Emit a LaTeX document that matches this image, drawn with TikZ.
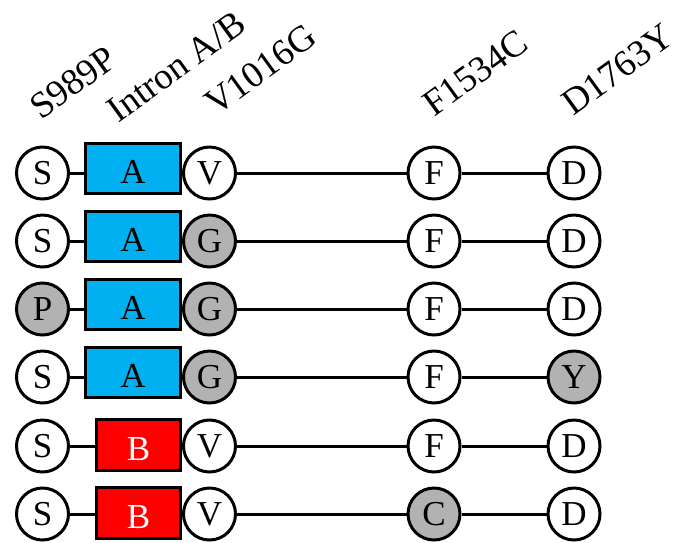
\documentclass[tikz,border=0pt]{standalone}
\usepackage{fontspec}
\setmainfont{Liberation Serif}
\definecolor{mutgray}{RGB}{178,178,178}
\definecolor{introna}{RGB}{0,176,240}
\definecolor{intronb}{RGB}{255,0,0}
\begin{document}
\begin{tikzpicture}[x=1pt,y=-1pt,
  site/.style={circle,draw,line width=3pt,minimum size=52pt,inner sep=0pt,fill=white,font=\fontsize{35}{35}\selectfont},
  mut/.style={site,fill=mutgray},
  boxa/.style={rectangle,draw,line width=3pt,fill=introna,minimum width=95pt,minimum height=50pt,inner sep=0pt,text height=29pt,text depth=0pt,font=\fontsize{35}{35}\selectfont},
  boxb/.style={rectangle,draw,line width=3pt,fill=intronb,text=white,minimum width=84pt,minimum height=51pt,inner sep=0pt,text height=30pt,text depth=0pt,font=\fontsize{35}{35}\selectfont},
  conn/.style={line width=3pt},
  lab/.style={rotate=36,anchor=base west,inner sep=0pt,font=\fontsize{37}{37}\selectfont}
]
\useasboundingbox[fill=white] (0,0) rectangle (676,542);
% labels
\node[lab] (l1) at (41,121) {S989P};
\node[lab] (l2) at (118,124) {Intron A/B};
\node[lab] (l3) at (216,117) {V1016G};
\node[lab] (l4) at (434,118) {F1534C};
\node[lab] (l5) at (573,117) {D1763Y};
% row 1
\node[site] (s1) at (42.5,173) {S};
\node[boxa] (b1) at (133,168.5) {A};
\node[site] (v1) at (209.5,173) {V};
\node[site] (f1) at (434,173) {F};
\node[site] (d1) at (574,173) {D};
% row 2
\node[site] (s2) at (42.5,241) {S};
\node[boxa] (b2) at (133,236.5) {A};
\node[mut] (v2) at (209.5,241) {G};
\node[site] (f2) at (434,241) {F};
\node[site] (d2) at (574,241) {D};
% row 3
\node[mut] (s3) at (42.5,309) {P};
\node[boxa] (b3) at (133,304.5) {A};
\node[mut] (v3) at (209.5,309) {G};
\node[site] (f3) at (434,309) {F};
\node[site] (d3) at (574,309) {D};
% row 4
\node[site] (s4) at (42.5,377) {S};
\node[boxa] (b4) at (133,372.5) {A};
\node[mut] (v4) at (209.5,377) {G};
\node[site] (f4) at (434,377) {F};
\node[mut] (d4) at (574,377) {Y};
% row 5
\node[site] (s5) at (42.5,446) {S};
\node[boxb] (b5) at (138.5,445) {B};
\node[site] (v5) at (209.5,446) {V};
\node[site] (f5) at (434,446) {F};
\node[site] (d5) at (574,446) {D};
% row 6
\node[site] (s6) at (42.5,514) {S};
\node[boxb] (b6) at (138.5,513) {B};
\node[site] (v6) at (209.5,514) {V};
\node[mut] (f6) at (434,514) {C};
\node[site] (d6) at (574,514) {D};
% connectors
\foreach \i in {1,...,6}{
  \draw[conn] (s\i) -- (s\i -| b\i.west);
  \draw[conn] (v\i) -- (f\i);
  \draw[conn] (f\i) -- (d\i);
}
\end{tikzpicture}
\end{document}
